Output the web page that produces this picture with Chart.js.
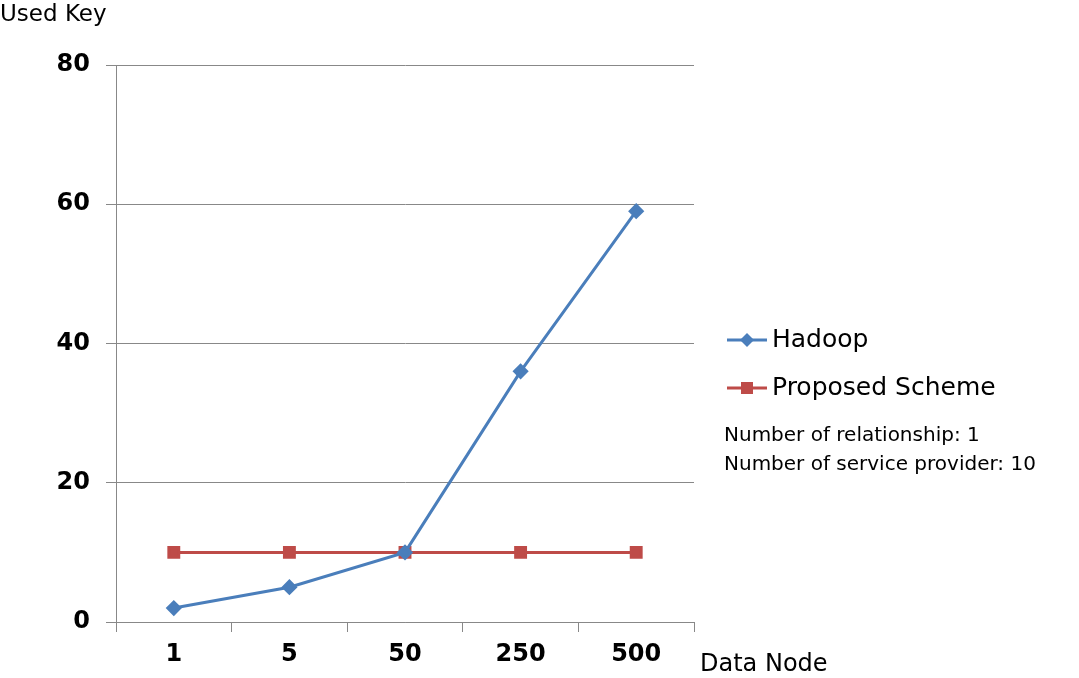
<!DOCTYPE html>
<html><head><meta charset="utf-8">
<script src="https://cdn.jsdelivr.net/npm/chart.js@4"></script>
<style>html,body{margin:0;background:#fff}#wrap{width:1079px;height:678px}</style>
</head><body><div id="wrap"><canvas id="c"></canvas></div>
<script>
const categories = ["1","5","50","250","500"];
const hadoop = [2,5,10,36,59];
const proposed = [10,10,10,10,10];
const yTicks = [0,20,40,60,80];
const notes = ["Number of relationship: 1","Number of service provider: 10"];

const blue = "#4a7ebb", red = "#be4b48";
const font = "'DejaVu Sans', 'Liberation Sans', sans-serif";

const extras = {
  id:"extras",
  afterDraw(chart){
    const ctx = chart.ctx;
    ctx.save();
    ctx.fillStyle = "#000";
    ctx.textBaseline = "middle";
    ctx.font = "23px " + font;
    ctx.textAlign = "left";
    ctx.fillText("Used Key", 0, 15);
    ctx.font = "24px " + font;
    ctx.fillText("Data Node", 700, 665);
    const items = chart.data.datasets;
    items.forEach((ds, i) => {
      const y = 340 + i*48;
      ctx.strokeStyle = ds.borderColor; ctx.lineWidth = 3;
      ctx.beginPath(); ctx.moveTo(727,y); ctx.lineTo(767,y); ctx.stroke();
      ctx.fillStyle = ds.borderColor;
      ctx.beginPath();
      if (ds.pointStyle === "rectRot"){ ctx.moveTo(747,y-7); ctx.lineTo(754,y); ctx.lineTo(747,y+7); ctx.lineTo(740,y); ctx.closePath(); }
      else ctx.rect(741,y-6,12,12);
      ctx.fill();
      ctx.fillStyle = "#000"; ctx.font = "25px " + font;
      ctx.fillText(ds.label, 772, y);
    });
    ctx.font = "20px " + font;
    notes.forEach((t,i)=>ctx.fillText(t, 724, 436 + i*29));
    ctx.restore();
  }
};

new Chart(document.getElementById("c"), {
  type:"line",
  data:{labels:categories, datasets:[
    {label:"Hadoop", data:hadoop, borderColor:blue, backgroundColor:blue, borderWidth:3, pointStyle:"rectRot", pointRadius:6, pointHoverRadius:6, tension:0},
    {label:"Proposed Scheme", data:proposed, borderColor:red, backgroundColor:red, borderWidth:3, pointStyle:"rect", pointRadius:7, pointHoverRadius:7, tension:0}
  ]},
  plugins:[extras],
  options:{
    responsive:true, maintainAspectRatio:false, animation:false,
    layout:{padding:{top:65, right:385, left:0, bottom:0}},
    plugins:{legend:{display:false}, tooltip:{enabled:false}},
    scales:{
      x:{offset:true,
        grid:{drawOnChartArea:false, offset:true, tickLength:10, color:"#888"},
        border:{color:"#888"},
        ticks:{color:"#000", font:{size:24, weight:"bold", family:font}, padding:8},
        afterFit(s){ s.height = 56; }
      },
      y:{min:0, max:80,
        afterBuildTicks(s){ s.ticks = yTicks.map(v=>({value:v})); },
        grid:{color:"#888", tickLength:10},
        border:{color:"#888"},
        ticks:{color:"#000", font:{size:24, weight:"bold", family:font}, padding:16},
        afterFit(s){ s.width = 116; }
      }
    }
  }
});
</script></body></html>
